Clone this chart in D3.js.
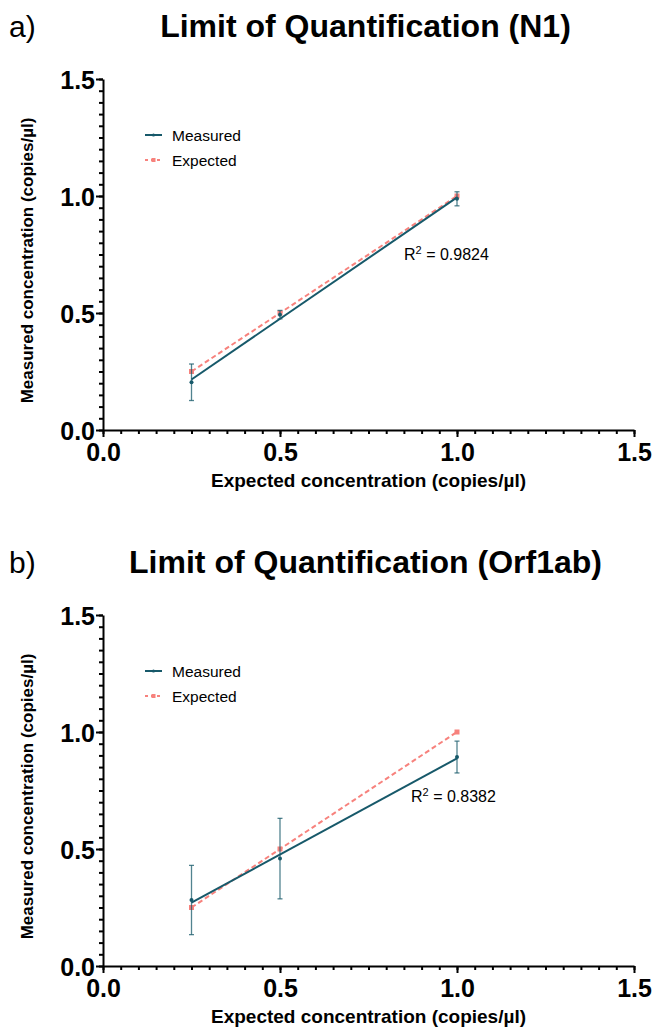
<!DOCTYPE html>
<html lang="en">
<head>
  <meta charset="UTF-8">
  <title>Limit of Quantification</title>
  <style>
    body { margin: 0; background: #fff; }
    svg text { font-family: "Liberation Sans", Arial, Helvetica, sans-serif; fill: #000; }
    .axis path, .axis line { stroke: #000; stroke-width: 2px; }
    .tick-label { font-size: 25px; font-weight: bold; }
  </style>
</head>
<body>
  <svg width="654" height="1033"></svg>

  <script src="https://d3js.org/d3.v7.min.js"></script>
  <script>
    // values
    const concentrations = [0.25, 0.5, 1.0];
    const expectedValues = [0.25, 0.5, 1.0];
    const n1Measured = [0.204, 0.493, 0.988];
    const n1Error = [0.078, 0.018, 0.03];
    const orfMeasured = [0.282, 0.459, 0.893];
    const orfError = [0.148, 0.172, 0.068];
    const panelLetters = ["a)", "b)"];
    const panelTitles = ["Limit of Quantification (N1)", "Limit of Quantification (Orf1ab)"];
    const rSquared = ["0.9824", "0.8382"];
    const axisTicks = [0.0, 0.5, 1.0, 1.5];
    const legendNames = ["Measured", "Expected"];

    const measuredColor = "#17596a";
    const expectedColor = "#f7827d";

    const svg = d3.select("svg");
    const plotLeft = 103, plotRight = 634, plotTop = 79, plotBottom = 430;
    const panelGap = 536;

    const x = d3.scaleLinear().domain([0, 1.5]).range([plotLeft, plotRight]);

    function fitLine(xs, ys) {
      const mx = d3.mean(xs), my = d3.mean(ys);
      let sxy = 0, sxx = 0;
      xs.forEach((v, i) => { sxy += (v - mx) * (ys[i] - my); sxx += (v - mx) * (v - mx); });
      const slope = sxy / sxx;
      return { slope, intercept: my - slope * mx };
    }

    function drawPanel(idx, means, errs) {
      const g = svg.append("g").attr("transform", `translate(0,${idx * panelGap})`);
      const y = d3.scaleLinear().domain([0, 1.5]).range([plotBottom, plotTop]);

      g.append("text").attr("x", 9).attr("y", 37)
        .style("font-size", "30px").text(panelLetters[idx]);

      g.append("text").attr("x", (plotLeft + plotRight) / 2 - 3).attr("y", 37)
        .attr("text-anchor", "middle")
        .style("font-size", "32px").style("font-weight", "bold")
        .text(panelTitles[idx]);

      // minor ticks
      const xAxisMinor = d3.axisBottom(x).ticks(30).tickSize(4).tickFormat("");
      const yAxisMinor = d3.axisLeft(y).ticks(30).tickSize(4).tickFormat("");
      g.append("g").attr("class", "axis").attr("transform", `translate(0,${plotBottom})`).call(xAxisMinor)
        .call(s => s.select(".domain").remove());
      g.append("g").attr("class", "axis").attr("transform", `translate(${plotLeft},0)`).call(yAxisMinor)
        .call(s => s.select(".domain").remove());

      // major ticks and domain
      const xAxis = d3.axisBottom(x).tickValues(axisTicks).tickSize(7).tickSizeOuter(0).tickFormat(d3.format(".1f"));
      const yAxis = d3.axisLeft(y).tickValues(axisTicks).tickSize(7).tickSizeOuter(0).tickPadding(1).tickFormat(d3.format(".1f"));
      const xg = g.append("g").attr("class", "axis").attr("transform", `translate(0,${plotBottom})`).call(xAxis);
      const yg = g.append("g").attr("class", "axis").attr("transform", `translate(${plotLeft},0)`).call(yAxis);
      xg.selectAll("text").attr("class", "tick-label").attr("y", 31).attr("dy", 0);
      yg.selectAll("text").attr("class", "tick-label").attr("dy", "0.36em");

      g.append("text").attr("x", (plotLeft + plotRight) / 2).attr("y", 487)
        .attr("text-anchor", "middle")
        .style("font-size", "19px").style("font-weight", "bold")
        .text("Expected concentration (copies/\u00b5l)");

      g.append("text")
        .attr("transform", `translate(33,${(plotTop + plotBottom) / 2 + 6}) rotate(-90)`)
        .attr("text-anchor", "middle")
        .style("font-size", "17px").style("font-weight", "bold")
        .text("Measured concentration (copies/\u00b5l)");

      // expected series
      const line = d3.line().x(d => x(d[0])).y(d => y(d[1]));
      const expPts = concentrations.map((c, i) => [c, expectedValues[i]]);
      g.append("path").attr("d", line(expPts))
        .attr("fill", "none").attr("stroke", expectedColor)
        .attr("stroke-width", 2).attr("stroke-dasharray", "5,3");
      g.selectAll(".exp-pt").data(expPts).enter().append("rect")
        .attr("x", d => x(d[0]) - 2.5).attr("y", d => y(d[1]) - 2.5)
        .attr("width", 5).attr("height", 5).attr("fill", expectedColor);

      // measured series: error bars, linear fit, points
      const eb = g.selectAll(".err").data(concentrations).enter().append("g")
        .attr("stroke", measuredColor).attr("stroke-opacity", 0.75).attr("stroke-width", 1.3);
      eb.append("line")
        .attr("x1", d => x(d)).attr("x2", d => x(d))
        .attr("y1", (d, i) => y(means[i] - errs[i])).attr("y2", (d, i) => y(means[i] + errs[i]));
      eb.append("line")
        .attr("x1", d => x(d) - 2.5).attr("x2", d => x(d) + 2.5)
        .attr("y1", (d, i) => y(means[i] + errs[i])).attr("y2", (d, i) => y(means[i] + errs[i]));
      eb.append("line")
        .attr("x1", d => x(d) - 2.5).attr("x2", d => x(d) + 2.5)
        .attr("y1", (d, i) => y(means[i] - errs[i])).attr("y2", (d, i) => y(means[i] - errs[i]));

      const fit = fitLine(concentrations, means);
      const xs = d3.extent(concentrations);
      g.append("path")
        .attr("d", line(xs.map(v => [v, fit.intercept + fit.slope * v])))
        .attr("fill", "none").attr("stroke", measuredColor).attr("stroke-width", 2);

      g.selectAll(".meas-pt").data(concentrations).enter().append("circle")
        .attr("cx", d => x(d)).attr("cy", (d, i) => y(means[i]))
        .attr("r", 2).attr("fill", measuredColor);

      // legend
      const lg = g.append("g");
      lg.append("line").attr("x1", 145).attr("x2", 162).attr("y1", 135).attr("y2", 135)
        .attr("stroke", measuredColor).attr("stroke-width", 2);
      lg.append("circle").attr("cx", 153.5).attr("cy", 135).attr("r", 1.6).attr("fill", measuredColor);
      lg.append("line").attr("x1", 145).attr("x2", 162).attr("y1", 160).attr("y2", 160)
        .attr("stroke", expectedColor).attr("stroke-width", 2).attr("stroke-dasharray", "3,3");
      lg.append("rect").attr("x", 151.5).attr("y", 158).attr("width", 4).attr("height", 4).attr("fill", expectedColor);
      lg.selectAll(".lbl").data(legendNames).enter().append("text")
        .attr("x", 172).attr("y", (d, i) => 141 + i * 25)
        .style("font-size", "15.5px").text(d => d);

      // R squared
      const rx = idx === 0 ? 404 : 411;
      const ry = idx === 0 ? 260 : 802 - panelGap;
      const rt = g.append("text").attr("x", rx).attr("y", ry).style("font-size", "16px");
      rt.append("tspan").text("R");
      rt.append("tspan").attr("dy", -6).style("font-size", "11px").text("2");
      rt.append("tspan").attr("dy", 6).text(" = " + rSquared[idx]);
    }

    drawPanel(0, n1Measured, n1Error);
    drawPanel(1, orfMeasured, orfError);
  </script>
</body>
</html>
